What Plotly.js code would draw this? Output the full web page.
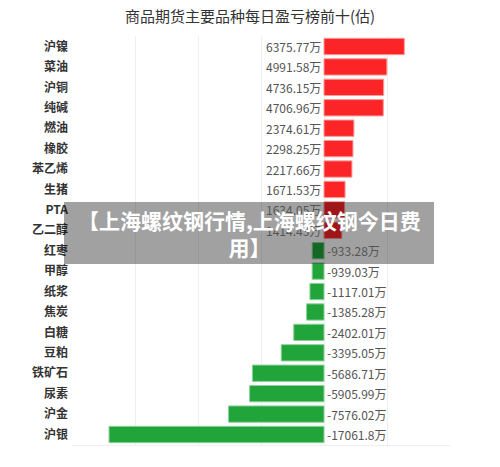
<!DOCTYPE html>
<html><head><meta charset="utf-8">
<script src="https://cdn.plot.ly/plotly-3.0.1.min.js"></script>
<style>html,body{margin:0;padding:0;background:#fff}#chart{width:500px;height:467px}</style>
</head><body><div id="chart"></div>
<script>
const categories = ["沪镍","菜油","沪铜","纯碱","燃油","橡胶","苯乙烯","生猪","PTA","乙二醇","红枣","甲醇","纸浆","焦炭","白糖","豆粕","铁矿石","尿素","沪金","沪银"];
const values = [6375.77,4991.58,4736.15,4706.96,2374.61,2298.25,2217.66,1671.53,1634.05,1414.43,-933.28,-939.03,-1117.01,-1385.28,-2402.01,-3395.05,-5686.71,-5905.99,-7576.02,-17061.8];
const unit = "万";
const titleText = "商品期货主要品种每日盈亏榜前十(估)";
const overlayText = "【上海螺纹钢行情,上海螺纹钢今日费<br>用】";

const FONT = '"Noto Sans CJK SC", "Noto Sans", sans-serif';
const colors = values.map(v => v >= 0 ? '#fb2426' : '#21a43a');
const lineColors = values.map(v => v >= 0 ? '#fd9a9a' : '#8fd39c');

const trace = {
  type: 'bar', orientation: 'h',
  x: values, y: categories,
  marker: {color: colors, line: {color: lineColors, width: 1}},
  hoverinfo: 'none'
};

const annotations = values.map((v, i) => ({
  x: 0, y: categories[i], xref: 'x', yref: 'y',
  text: String(v) + unit, showarrow: false,
  xanchor: v >= 0 ? 'right' : 'left', xshift: v >= 0 ? -1 : 1,
  font: {family: FONT, size: 12, color: '#555'}
}));

annotations.push({
  xref: 'paper', yref: 'paper', x: (249 - 72) / 378, y: (445 - 233) / 409, yanchor: 'middle',
  text: overlayText, showarrow: false,
  font: {family: FONT, size: 21, color: '#fff', weight: 'bold'}
});

const layout = {
  width: 500, height: 467,
  margin: {l: 72, r: 50, t: 36, b: 22},
  paper_bgcolor: '#fff', plot_bgcolor: '#fff',
  title: {text: titleText, x: 0.5, xanchor: 'center', y: 0.965, yanchor: 'middle',
          font: {family: FONT, size: 15, color: '#333'}},
  showlegend: false,
  bargap: 0.2,
  xaxis: {range: [-20000, 10000], dtick: 5000, showticklabels: false, ticks: '',
          showgrid: true, gridcolor: '#efefef', zeroline: false,
          showline: true, linecolor: '#efefef', fixedrange: true},
  yaxis: {type: 'category', categoryorder: 'array', categoryarray: categories,
          autorange: 'reversed', ticks: '', showgrid: false, ticklabelstandoff: 3,
          tickfont: {family: FONT, size: 12, color: '#333', weight: 'bold'}, fixedrange: true},
  annotations: annotations,
  shapes: [{type: 'rect', xref: 'paper', yref: 'paper',
            x0: (64 - 72) / 378, x1: (434 - 72) / 378,
            y0: (445 - 264) / 409, y1: (445 - 202) / 409,
            fillcolor: 'rgba(0,0,0,0.37)', line: {width: 0}, layer: 'above'}]
};

Plotly.newPlot('chart', [trace], layout, {displayModeBar: false, staticPlot: true});
</script></body></html>
